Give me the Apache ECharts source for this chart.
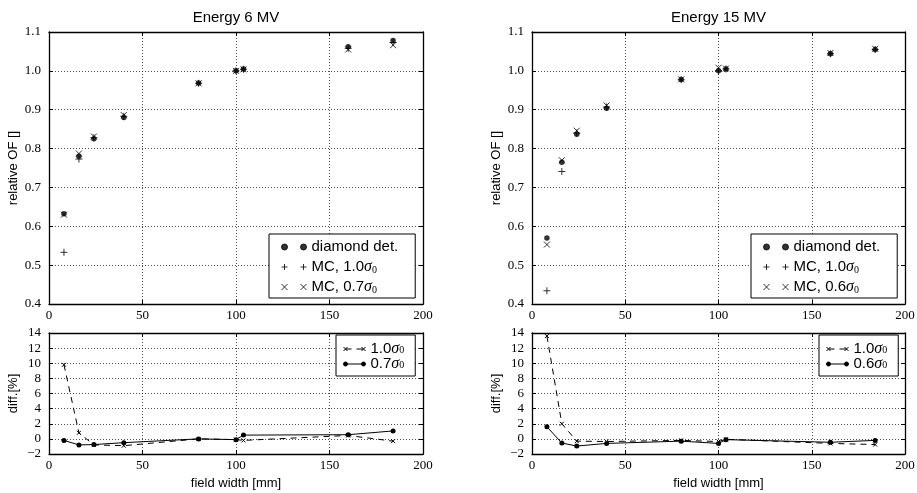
<!DOCTYPE html>
<html>
<head>
<meta charset="utf-8">
<script src="https://cdn.jsdelivr.net/npm/echarts@6/dist/echarts.min.js"></script>
<style>
  html, body { margin: 0; padding: 0; background: #fff; }
  #chart { width: 917px; height: 493px; }
</style>
</head>
<body>
<div id="chart"></div>
<script>
// Field widths [mm] shared by every panel
const fieldWidth = [8, 16, 24, 40, 80, 100, 104, 160, 184];

// 6 MV: relative output factors
const diamond6 = [0.632, 0.780, 0.825, 0.880, 0.969, 1.000, 1.005, 1.062, 1.078];
const mc10_6   = [0.533, 0.773, 0.828, 0.883, 0.968, 1.000, 1.004, 1.058, 1.073];
const mc07_6   = [0.630, 0.787, 0.831, 0.886, 0.968, 1.000, 1.004, 1.055, 1.066];
// 6 MV: differences [%]
const diff10_6 = [9.8, 0.8, -0.8, -0.9, 0.0, -0.1, -0.2, 0.45, -0.3];
const diff07_6 = [-0.2, -0.8, -0.75, -0.5, 0.0, -0.1, 0.5, 0.55, 1.05];

// 15 MV: relative output factors
const diamond15 = [0.570, 0.765, 0.837, 0.904, 0.978, 1.000, 1.005, 1.044, 1.055];
const mc10_15   = [0.434, 0.741, 0.840, 0.907, 0.977, 1.000, 1.005, 1.044, 1.055];
const mc06_15   = [0.553, 0.770, 0.846, 0.911, 0.978, 1.008, 1.006, 1.046, 1.057];
// 15 MV: differences [%]
const diff10_15 = [13.6, 2.0, -0.3, -0.35, -0.2, -0.35, -0.05, -0.6, -0.75];
const diff06_15 = [1.6, -0.55, -0.95, -0.6, -0.3, -0.6, -0.1, -0.45, -0.2];

// Panel titles and axis names
const titles = ['Energy 6 MV', 'Energy 15 MV'];
const ofName = 'relative OF []';
const diffName = 'diff.[%]';
const xName = 'field width [mm]';

const SERIF = 'Liberation Serif';
const SANS = 'Liberation Sans';

const PLUS = 'path://M0,5L10,5M5,0L5,10';
const CROSS = 'path://M0,0L10,10M10,0L0,10';
const DOTS2 = 'path://M0,3A3,3,0,1,0,6,3A3,3,0,1,0,0,3ZM19,3A3,3,0,1,0,25,3A3,3,0,1,0,19,3Z';
const PLUS2 = 'path://M0,3L6,3M3,0L3,6M19,3L25,3M22,0L22,6';
const CROSS2 = 'path://M0,0L6,6M6,0L0,6M19,0L25,6M25,0L19,6';
const DASHX = 'path://M0,0L4,4M4,0L0,4M2,2L8,2M13,2L20,2M18,0L22,4M22,0L18,4';
const LINEDOT = 'path://M0,2A2,2,0,1,0,4,2A2,2,0,1,0,0,2ZM2,2L20,2M18,2A2,2,0,1,0,22,2A2,2,0,1,0,18,2Z';

const pairs = vals => fieldWidth.map((x, i) => [x, vals[i]]);

const grids = [
  { left: 49,  top: 32,  width: 374, height: 272 },
  { left: 49,  top: 333, width: 374, height: 121 },
  { left: 532, top: 32,  width: 373, height: 272 },
  { left: 532, top: 333, width: 373, height: 121 }
].map(g => Object.assign({ outerBoundsMode: 'none', containLabel: false }, g));

const frameLine = { show: true, onZero: false, lineStyle: { color: '#000', width: 1.3 } };
const tick = { show: true, inside: true, length: 4, lineStyle: { color: '#000', width: 1 } };
const dotted = { show: true, lineStyle: { color: '#222', width: 0.8, type: [1, 2] } };
const tickFont = { fontFamily: SERIF, fontSize: 13, color: '#000' };
const nameFont = { fontFamily: SANS, fontSize: 13, color: '#000' };
const titleFont = { fontFamily: SANS, fontSize: 15, color: '#000' };

const minus = v => (v < 0 ? '\u2212' + Math.abs(v) : String(v));

const xAxes = [];
const yAxes = [];
[0, 1, 2, 3].forEach(p => {
  const isTop = p % 2 === 0;
  xAxes.push({
    type: 'value', gridIndex: p, position: 'bottom', min: 0, max: 200, interval: 50,
    axisLine: frameLine, axisTick: tick, splitLine: dotted,
    axisLabel: Object.assign({ margin: 5 }, tickFont),
    name: isTop ? '' : xName, nameLocation: 'middle', nameGap: 23,
    nameTextStyle: nameFont, nameMoveOverlap: false
  });
  xAxes.push({
    type: 'value', gridIndex: p, position: 'top', min: 0, max: 200, interval: 50,
    axisLine: frameLine, axisTick: tick, splitLine: { show: false },
    axisLabel: { show: false },
    name: isTop ? titles[p / 2] : '', nameLocation: 'middle', nameGap: 7,
    nameTextStyle: titleFont, nameMoveOverlap: false
  });
  const yr = isTop ? { min: 0.4, max: 1.1, interval: 0.1 } : { min: -2, max: 14, interval: 2 };
  yAxes.push(Object.assign({
    type: 'value', gridIndex: p, position: 'left',
    axisLine: frameLine, axisTick: tick, splitLine: dotted,
    axisLabel: Object.assign({ margin: 8, formatter: isTop ? (v => v.toFixed(1)) : minus }, tickFont),
    name: isTop ? ofName : diffName, nameLocation: 'middle', nameGap: 29,
    nameTextStyle: nameFont, nameMoveOverlap: false
  }, yr));
  yAxes.push(Object.assign({
    type: 'value', gridIndex: p, position: 'right',
    axisLine: frameLine, axisTick: tick, splitLine: { show: false },
    axisLabel: { show: false }
  }, yr));
});

function ofSeries(p, name, vals, kind) {
  const s = {
    type: 'scatter', name, xAxisIndex: 2 * p, yAxisIndex: 2 * p, data: pairs(vals),
    silent: true, animation: false
  };
  if (kind === 'dot') {
    s.symbol = 'circle'; s.symbolSize = 5.5; s.itemStyle = { color: '#000' }; s.z = 4;
  } else {
    s.symbol = kind === 'plus' ? PLUS : CROSS;
    s.symbolSize = kind === 'plus' ? 7 : 6;
    s.itemStyle = { color: '#000', borderColor: '#000', borderWidth: 1 };
  }
  return s;
}

function diffSeries(p, name, vals, dashed) {
  return {
    type: 'line', name, xAxisIndex: 2 * p, yAxisIndex: 2 * p, data: pairs(vals),
    silent: true, animation: false, showSymbol: true,
    symbol: dashed ? CROSS : 'circle', symbolSize: dashed ? 4 : 5,
    lineStyle: { color: '#000', width: 1, type: dashed ? [6, 5] : 'solid' },
    itemStyle: { color: '#000', borderColor: '#000', borderWidth: dashed ? 1 : 0 }
  };
}

const series = [
  ofSeries(0, 'diamond det.', diamond6, 'dot'),
  ofSeries(0, 'MC, 1.0σ0', mc10_6, 'plus'),
  ofSeries(0, 'MC, 0.7σ0', mc07_6, 'cross'),
  diffSeries(1, '1.0σ0', diff10_6, true),
  diffSeries(1, '0.7σ0', diff07_6, false),
  ofSeries(2, 'diamond det.', diamond15, 'dot'),
  ofSeries(2, 'MC, 1.0σ0', mc10_15, 'plus'),
  ofSeries(2, 'MC, 0.6σ0', mc06_15, 'cross'),
  diffSeries(3, '1.0σ0', diff10_15, true),
  diffSeries(3, '0.6σ0', diff06_15, false)
];

// Legend label: plain part, italic sigma, subscript zero
const sigmaFmt = name => {
  const i = name.indexOf('σ0');
  if (i < 0) return name;
  return '{n|' + name.slice(0, i) + '}{g|σ}{sub|0}';
};

function legendBox(left, top, items, big) {
  const lh = big ? 16 : 13;
  const base = { fontFamily: SANS, fontSize: 15, color: '#000', lineHeight: lh };
  return {
    show: true, orient: 'vertical', left, top, selectedMode: false,
    itemWidth: big ? 25 : 22, itemHeight: big ? 6 : 4, itemGap: big ? 4 : -1,
    padding: big ? [5, 17, 3, 12] : [6, 11, 4, 7],
    borderColor: '#000', borderWidth: 1, borderRadius: 0, backgroundColor: '#fff',
    itemStyle: { color: '#000', borderColor: '#000', borderWidth: 1 },
    data: items.map(([name, icon]) => ({ name, icon, textStyle: base })),
    formatter: sigmaFmt,
    textStyle: Object.assign({}, base, {
      rich: {
        n: Object.assign({}, base),
        g: { fontFamily: SERIF, fontStyle: 'italic', fontSize: 16, lineHeight: lh, color: '#000' },
        sub: { fontFamily: SERIF, fontSize: 10, lineHeight: lh - 6, verticalAlign: 'bottom', color: '#000' }
      }
    })
  };
}

const legend = [
  legendBox(269, 234, [['diamond det.', DOTS2], ['MC, 1.0σ0', PLUS2], ['MC, 0.7σ0', CROSS2]], true),
  legendBox(336, 335, [['1.0σ0', DASHX], ['0.7σ0', LINEDOT]], false),
  legendBox(751, 234, [['diamond det.', DOTS2], ['MC, 1.0σ0', PLUS2], ['MC, 0.6σ0', CROSS2]], true),
  legendBox(819, 335, [['1.0σ0', DASHX], ['0.6σ0', LINEDOT]], false)
];

const chart = echarts.init(document.getElementById('chart'), null, { renderer: 'canvas' });
chart.setOption({
  animation: false,
  backgroundColor: '#fff',
  grid: grids,
  xAxis: xAxes,
  yAxis: yAxes,
  legend,
  series
});
</script>
</body>
</html>
